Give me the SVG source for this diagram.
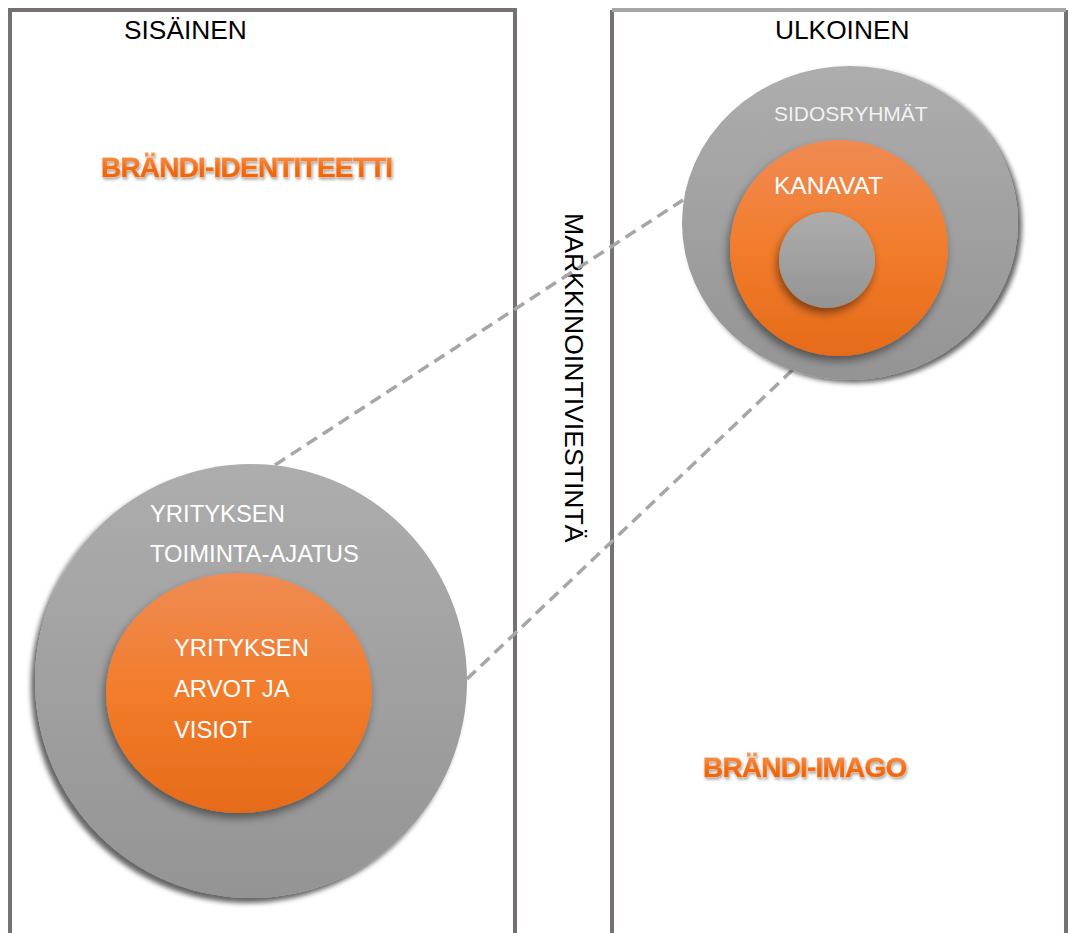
<svg xmlns="http://www.w3.org/2000/svg" width="1069" height="933" viewBox="0 0 1069 933">
  <style>
    .frame { fill: none; stroke: #767171; stroke-width: 4; }
    .frame-top-light { stroke: #a6a6a6; stroke-width: 4; }
    .head { font-family: "Liberation Sans", Arial, sans-serif; font-size: 26.3px; fill: #000; }
    .lbl { font-family: "Liberation Sans", Arial, sans-serif; font-size: 23.8px; fill: #fff; }
    .lbl-s { font-family: "Liberation Sans", Arial, sans-serif; font-size: 21px; fill: #f2f2f2; }
    .brand { font-family: "Liberation Sans", Arial, sans-serif; font-weight: bold; font-size: 28px; letter-spacing: -0.8px; fill: url(#brandFill); stroke: #f9a56a; stroke-width: 0.9; paint-order: stroke; filter: url(#brandShadow); }
    .link { fill: none; stroke: #a6a6a6; stroke-width: 3.5; stroke-dasharray: 12 7; }
  </style>
  <defs>
    <linearGradient id="grayFill" x1="0" y1="0" x2="0" y2="1">
      <stop offset="0" stop-color="#adadad"/>
      <stop offset="1" stop-color="#949494"/>
    </linearGradient>
    <linearGradient id="orangeFill" x1="0" y1="0" x2="0" y2="1">
      <stop offset="0" stop-color="#ef8b53"/>
      <stop offset="0.5" stop-color="#f27c2b"/>
      <stop offset="1" stop-color="#e66b19"/>
    </linearGradient>
    <linearGradient id="brandFill" x1="0" y1="0" x2="0" y2="1">
      <stop offset="0" stop-color="#f79a5a"/>
      <stop offset="0.55" stop-color="#f26b12"/>
      <stop offset="1" stop-color="#e8600e"/>
    </linearGradient>
    <filter id="shadowLeft" x="-20%" y="-20%" width="140%" height="140%">
      <feDropShadow dx="-4" dy="5" stdDeviation="2.5" flood-color="#000" flood-opacity="0.6"/>
    </filter>
    <filter id="shadowRight" x="-20%" y="-20%" width="140%" height="140%">
      <feDropShadow dx="4" dy="3" stdDeviation="2.5" flood-color="#000" flood-opacity="0.6"/>
    </filter>
    <filter id="shadowDown" x="-20%" y="-20%" width="140%" height="140%">
      <feDropShadow dx="-2" dy="5" stdDeviation="4" flood-color="#000" flood-opacity="0.45"/>
    </filter>
    <filter id="brandShadow" x="-10%" y="-30%" width="120%" height="160%">
      <feDropShadow dx="1" dy="2" stdDeviation="1.5" flood-color="#000" flood-opacity="0.35"/>
    </filter>
  </defs>

  <!-- two columns: internal and external -->
  <g id="col-internal">
    <path class="frame" d="M10 940 V10 H515 V940"/>
    <text class="head" x="124" y="39">SISÄINEN</text>
    <text class="brand" x="101" y="177">BRÄNDI-IDENTITEETTI</text>
  </g>
  <g id="col-external">
    <path class="frame" d="M612 940 V10"/>
    <path class="frame" d="M1066 10 V940"/>
    <path class="frame-top-light" d="M612 10 H1066"/>
    <text class="head" x="775" y="39">ULKOINEN</text>
    <text class="brand" x="703" y="777">BRÄNDI-IMAGO</text>
  </g>

  <!-- channel label between the columns -->
  <g id="channel">
    <text class="head" transform="translate(565 213) rotate(90)" style="font-size:26.6px">MARKKINOINTIVIESTINTÄ</text>
  </g>

  <!-- dashed projection lines -->
  <g id="connectors">
    <line class="link" x1="275" y1="465" x2="683" y2="200"/>
    <line class="link" x1="467" y1="679" x2="803" y2="360"/>
  </g>

  <!-- company core: mission and values -->
  <g id="node-company">
    <ellipse cx="251" cy="681" rx="216" ry="217" fill="url(#grayFill)" filter="url(#shadowLeft)"/>
    <text class="lbl" x="150" y="522">YRITYKSEN</text>
    <text class="lbl" x="150" y="562">TOIMINTA-AJATUS</text>
  </g>
  <g id="node-values">
    <ellipse cx="239" cy="693" rx="133" ry="120" fill="url(#orangeFill)" filter="url(#shadowDown)"/>
    <text class="lbl" x="174" y="656">YRITYKSEN</text>
    <text class="lbl" x="174" y="697">ARVOT JA</text>
    <text class="lbl" x="174" y="738">VISIOT</text>
  </g>

  <!-- stakeholders, channels and the centre -->
  <g id="node-stakeholders">
    <ellipse cx="850" cy="223" rx="168" ry="157" fill="url(#grayFill)" filter="url(#shadowRight)"/>
    <text class="lbl-s" x="774" y="121">SIDOSRYHMÄT</text>
  </g>
  <g id="node-channels">
    <ellipse cx="839" cy="248" rx="109" ry="108" fill="url(#orangeFill)" filter="url(#shadowDown)"/>
    <text class="lbl" x="774" y="194" style="font-size:24.5px">KANAVAT</text>
  </g>
  <g id="node-centre">
    <circle cx="827" cy="260" r="48" fill="url(#grayFill)" filter="url(#shadowDown)"/>
  </g>
</svg>
